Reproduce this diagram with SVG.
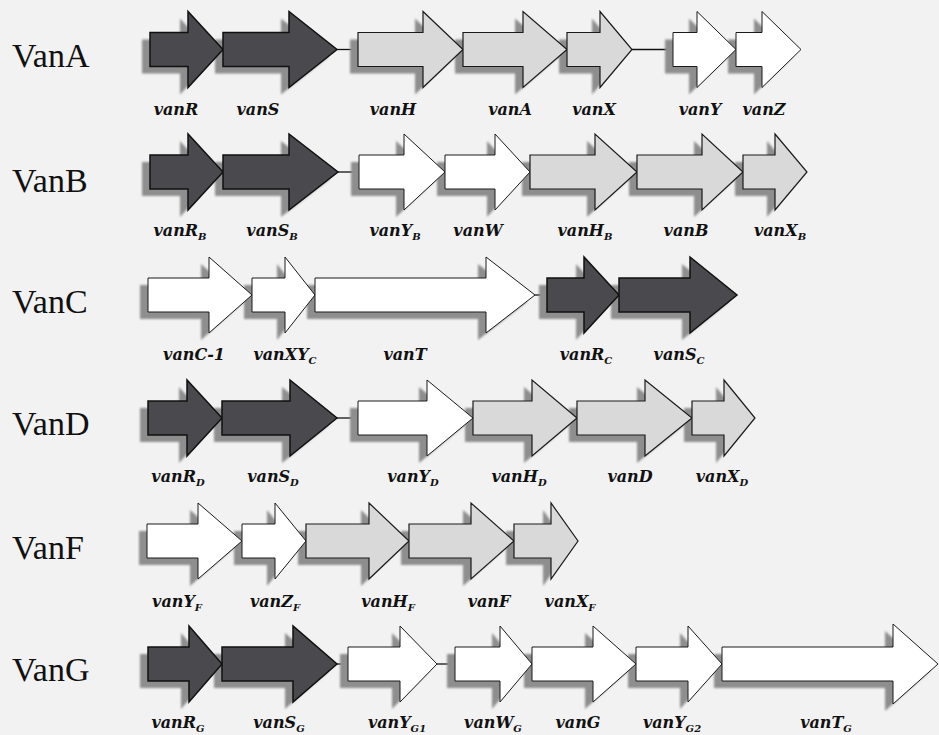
<svg xmlns="http://www.w3.org/2000/svg" width="939" height="735" viewBox="0 0 939 735">
<style>
.bg{fill:#f2f2f2}
.sh{fill:#8e8e8e;filter:url(#blur)}
.dk{fill:#4a4a4e;stroke:#111;stroke-width:1.5;stroke-linejoin:miter}
.lt{fill:#d9d9d9;stroke:#1a1a1a;stroke-width:1.2}
.wt{fill:#ffffff;stroke:#1a1a1a;stroke-width:1}
.ln{stroke:#111;stroke-width:1.3}
.row{font-family:'Liberation Serif','DejaVu Serif',serif;font-size:34px;fill:#111}
.lbl{font-family:'DejaVu Serif','Liberation Serif',serif;font-weight:bold;font-style:italic;font-size:16px;fill:#111;text-anchor:middle}
.sub{font-size:10px}
</style>
<defs>
<filter id="blur" x="-10%" y="-10%" width="120%" height="120%"><feGaussianBlur stdDeviation="0.8"/></filter>
</defs>
<rect class="bg" x="0" y="0" width="939" height="735"/>

<!-- row titles -->
<g id="titles" font-family="Liberation Serif, DejaVu Serif, serif">
<text class="row" x="12" y="67">VanA</text>
<text class="row" x="12" y="192">VanB</text>
<text class="row" x="12" y="313">VanC</text>
<text class="row" x="12" y="435">VanD</text>
<text class="row" x="12" y="559">VanF</text>
<text class="row" x="12" y="681">VanG</text>
</g>

<!-- connectors -->
<g id="connectors">
<line class="ln" x1="337" y1="49.5" x2="358" y2="49.5"/>
<line class="ln" x1="632" y1="49.5" x2="673" y2="49.5"/>
<line class="ln" x1="338" y1="172" x2="359" y2="172"/>
<line class="ln" x1="535" y1="295" x2="547" y2="295"/>
<line class="ln" x1="337" y1="418" x2="358" y2="418"/>
<line class="ln" x1="337" y1="664" x2="348" y2="664"/>
<line class="ln" x1="437" y1="664" x2="455" y2="664"/>
</g>

<!-- shadows -->
<g id="shadows">
<g transform="translate(-8,56.5)">
<polygon class="sh" points="150,-17 188,-17 188,-38 223,0 188,38 188,17 150,17"/>
<polygon class="sh" points="223,-17 289,-17 289,-38 337,0 289,38 289,17 223,17"/>
<polygon class="sh" points="358,-17 423,-17 423,-38 463,0 423,38 423,17 358,17"/>
<polygon class="sh" points="463,-17 523,-17 523,-38 567,0 523,38 523,17 463,17"/>
<polygon class="sh" points="567,-17 600,-17 600,-38 632,0 600,38 600,17 567,17"/>
<polygon class="sh" points="673,-17 697,-17 697,-38 736,0 697,38 697,17 673,17"/>
<polygon class="sh" points="736,-17 762,-17 762,-38 801,0 762,38 762,17 736,17"/>
</g>
<g transform="translate(-8,179)">
<polygon class="sh" points="150,-17 188,-17 188,-38 223,0 188,38 188,17 150,17"/>
<polygon class="sh" points="223,-17 289,-17 289,-38 338,0 289,38 289,17 223,17"/>
<polygon class="sh" points="359,-17 404,-17 404,-38 445,0 404,38 404,17 359,17"/>
<polygon class="sh" points="445,-17 495,-17 495,-38 530,0 495,38 495,17 445,17"/>
<polygon class="sh" points="530,-17 595,-17 595,-38 637,0 595,38 595,17 530,17"/>
<polygon class="sh" points="637,-17 702,-17 702,-38 743,0 702,38 702,17 637,17"/>
<polygon class="sh" points="743,-17 775,-17 775,-38 807,0 775,38 775,17 743,17"/>
</g>
<g transform="translate(-8,302)">
<polygon class="sh" points="148,-17 209,-17 209,-38 252,0 209,38 209,17 148,17"/>
<polygon class="sh" points="252,-17 285,-17 285,-38 315,0 285,38 285,17 252,17"/>
<polygon class="sh" points="315,-17 486,-17 486,-38 535,0 486,38 486,17 315,17"/>
<polygon class="sh" points="547,-17 584,-17 584,-38 619,0 584,38 584,17 547,17"/>
<polygon class="sh" points="619,-17 690,-17 690,-38 737,0 690,38 690,17 619,17"/>
</g>
<g transform="translate(-8,425)">
<polygon class="sh" points="148,-17 187,-17 187,-38 222,0 187,38 187,17 148,17"/>
<polygon class="sh" points="222,-17 290,-17 290,-38 337,0 290,38 290,17 222,17"/>
<polygon class="sh" points="358,-17 427,-17 427,-38 473,0 427,38 427,17 358,17"/>
<polygon class="sh" points="473,-17 532,-17 532,-38 577,0 532,38 532,17 473,17"/>
<polygon class="sh" points="577,-17 645,-17 645,-38 692,0 645,38 645,17 577,17"/>
<polygon class="sh" points="692,-17 724,-17 724,-38 755,0 724,38 724,17 692,17"/>
</g>
<g transform="translate(-8,548)">
<polygon class="sh" points="147,-17 198,-17 198,-38 242,0 198,38 198,17 147,17"/>
<polygon class="sh" points="242,-17 275,-17 275,-38 306,0 275,38 275,17 242,17"/>
<polygon class="sh" points="306,-17 369,-17 369,-38 409,0 369,38 369,17 306,17"/>
<polygon class="sh" points="409,-17 471,-17 471,-38 514,0 471,38 471,17 409,17"/>
<polygon class="sh" points="514,-17 551,-17 551,-38 578,0 551,38 551,17 514,17"/>
</g>
<g transform="translate(-8,671)">
<polygon class="sh" points="148,-17 189,-17 189,-38 222,0 189,38 189,17 148,17"/>
<polygon class="sh" points="222,-17 293,-17 293,-38 337,0 293,38 293,17 222,17"/>
<polygon class="sh" points="348,-17 400,-17 400,-38 437,0 400,38 400,17 348,17"/>
<polygon class="sh" points="455,-17 500,-17 500,-38 532,0 500,38 500,17 455,17"/>
<polygon class="sh" points="532,-17 593,-17 593,-38 636,0 593,38 593,17 532,17"/>
<polygon class="sh" points="636,-17 688,-17 688,-38 722,0 688,38 688,17 636,17"/>
<polygon class="sh" points="722,-17 893,-17 893,-40 938,0 893,40 893,17 722,17"/>
</g>
</g>

<!-- VanA -->
<g id="rowA" transform="translate(0,49.5)">
<g id="vanR"><polygon class="dk" points="150,-17 188,-17 188,-38 223,0 188,38 188,17 150,17"/><text class="lbl" x="176" y="65.5">vanR</text></g>
<g id="vanS"><polygon class="dk" points="223,-17 289,-17 289,-38 337,0 289,38 289,17 223,17"/><text class="lbl" x="258" y="65.5">vanS</text></g>
<g id="vanH"><polygon class="lt" points="358,-17 423,-17 423,-38 463,0 423,38 423,17 358,17"/><text class="lbl" x="393" y="65.5">vanH</text></g>
<g id="vanA"><polygon class="lt" points="463,-17 523,-17 523,-38 567,0 523,38 523,17 463,17"/><text class="lbl" x="510" y="65.5">vanA</text></g>
<g id="vanX"><polygon class="lt" points="567,-17 600,-17 600,-38 632,0 600,38 600,17 567,17"/><text class="lbl" x="594" y="65.5">vanX</text></g>
<g id="vanY"><polygon class="wt" points="673,-17 697,-17 697,-38 736,0 697,38 697,17 673,17"/><text class="lbl" x="700" y="65.5">vanY</text></g>
<g id="vanZ"><polygon class="wt" points="736,-17 762,-17 762,-38 801,0 762,38 762,17 736,17"/><text class="lbl" x="764" y="65.5">vanZ</text></g>
</g>

<!-- VanB -->
<g id="rowB" transform="translate(0,172)">
<g id="vanRB"><polygon class="dk" points="150,-17 188,-17 188,-38 223,0 188,38 188,17 150,17"/><text class="lbl" x="180" y="64">vanR<tspan class="sub" dy="4">B</tspan></text></g>
<g id="vanSB"><polygon class="dk" points="223,-17 289,-17 289,-38 338,0 289,38 289,17 223,17"/><text class="lbl" x="272" y="64">vanS<tspan class="sub" dy="4">B</tspan></text></g>
<g id="vanYB"><polygon class="wt" points="359,-17 404,-17 404,-38 445,0 404,38 404,17 359,17"/><text class="lbl" x="395" y="64">vanY<tspan class="sub" dy="4">B</tspan></text></g>
<g id="vanW"><polygon class="wt" points="445,-17 495,-17 495,-38 530,0 495,38 495,17 445,17"/><text class="lbl" x="478" y="64">vanW</text></g>
<g id="vanHB"><polygon class="lt" points="530,-17 595,-17 595,-38 637,0 595,38 595,17 530,17"/><text class="lbl" x="585" y="64">vanH<tspan class="sub" dy="4">B</tspan></text></g>
<g id="vanB"><polygon class="lt" points="637,-17 702,-17 702,-38 743,0 702,38 702,17 637,17"/><text class="lbl" x="686" y="64">vanB</text></g>
<g id="vanXB"><polygon class="lt" points="743,-17 775,-17 775,-38 807,0 775,38 775,17 743,17"/><text class="lbl" x="780" y="64">vanX<tspan class="sub" dy="4">B</tspan></text></g>
</g>

<!-- VanC -->
<g id="rowC" transform="translate(0,295)">
<g id="vanC1"><polygon class="wt" points="148,-17 209,-17 209,-38 252,0 209,38 209,17 148,17"/><text class="lbl" x="194" y="65">vanC-1</text></g>
<g id="vanXYC"><polygon class="wt" points="252,-17 285,-17 285,-38 315,0 285,38 285,17 252,17"/><text class="lbl" x="285" y="65">vanXY<tspan class="sub" dy="4">C</tspan></text></g>
<g id="vanT"><polygon class="wt" points="315,-17 486,-17 486,-38 535,0 486,38 486,17 315,17"/><text class="lbl" x="405" y="65">vanT</text></g>
<g id="vanRC"><polygon class="dk" points="547,-17 584,-17 584,-38 619,0 584,38 584,17 547,17"/><text class="lbl" x="586" y="65">vanR<tspan class="sub" dy="4">C</tspan></text></g>
<g id="vanSC"><polygon class="dk" points="619,-17 690,-17 690,-38 737,0 690,38 690,17 619,17"/><text class="lbl" x="679" y="65">vanS<tspan class="sub" dy="4">C</tspan></text></g>
</g>

<!-- VanD -->
<g id="rowD" transform="translate(0,418)">
<g id="vanRD"><polygon class="dk" points="148,-17 187,-17 187,-38 222,0 187,38 187,17 148,17"/><text class="lbl" x="178" y="64">vanR<tspan class="sub" dy="4">D</tspan></text></g>
<g id="vanSD"><polygon class="dk" points="222,-17 290,-17 290,-38 337,0 290,38 290,17 222,17"/><text class="lbl" x="273" y="64">vanS<tspan class="sub" dy="4">D</tspan></text></g>
<g id="vanYD"><polygon class="wt" points="358,-17 427,-17 427,-38 473,0 427,38 427,17 358,17"/><text class="lbl" x="413" y="64">vanY<tspan class="sub" dy="4">D</tspan></text></g>
<g id="vanHD"><polygon class="lt" points="473,-17 532,-17 532,-38 577,0 532,38 532,17 473,17"/><text class="lbl" x="519" y="64">vanH<tspan class="sub" dy="4">D</tspan></text></g>
<g id="vanD"><polygon class="lt" points="577,-17 645,-17 645,-38 692,0 645,38 645,17 577,17"/><text class="lbl" x="630" y="64">vanD</text></g>
<g id="vanXD"><polygon class="lt" points="692,-17 724,-17 724,-38 755,0 724,38 724,17 692,17"/><text class="lbl" x="722" y="64">vanX<tspan class="sub" dy="4">D</tspan></text></g>
</g>

<!-- VanF -->
<g id="rowF" transform="translate(0,541)">
<g id="vanYF"><polygon class="wt" points="147,-17 198,-17 198,-38 242,0 198,38 198,17 147,17"/><text class="lbl" x="177" y="66">vanY<tspan class="sub" dy="4">F</tspan></text></g>
<g id="vanZF"><polygon class="wt" points="242,-17 275,-17 275,-38 306,0 275,38 275,17 242,17"/><text class="lbl" x="275" y="66">vanZ<tspan class="sub" dy="4">F</tspan></text></g>
<g id="vanHF"><polygon class="lt" points="306,-17 369,-17 369,-38 409,0 369,38 369,17 306,17"/><text class="lbl" x="388" y="66">vanH<tspan class="sub" dy="4">F</tspan></text></g>
<g id="vanF"><polygon class="lt" points="409,-17 471,-17 471,-38 514,0 471,38 471,17 409,17"/><text class="lbl" x="489" y="66">vanF</text></g>
<g id="vanXF"><polygon class="lt" points="514,-17 551,-17 551,-38 578,0 551,38 551,17 514,17"/><text class="lbl" x="570" y="66">vanX<tspan class="sub" dy="4">F</tspan></text></g>
</g>

<!-- VanG -->
<g id="rowG" transform="translate(0,664)">
<g id="vanRG"><polygon class="dk" points="148,-17 189,-17 189,-38 222,0 189,38 189,17 148,17"/><text class="lbl" x="178" y="64">vanR<tspan class="sub" dy="4">G</tspan></text></g>
<g id="vanSG"><polygon class="dk" points="222,-17 293,-17 293,-38 337,0 293,38 293,17 222,17"/><text class="lbl" x="279" y="64">vanS<tspan class="sub" dy="4">G</tspan></text></g>
<g id="vanYG1"><polygon class="wt" points="348,-17 400,-17 400,-38 437,0 400,38 400,17 348,17"/><text class="lbl" x="397" y="64">vanY<tspan class="sub" dy="4">G1</tspan></text></g>
<g id="vanWG"><polygon class="wt" points="455,-17 500,-17 500,-38 532,0 500,38 500,17 455,17"/><text class="lbl" x="493" y="64">vanW<tspan class="sub" dy="4">G</tspan></text></g>
<g id="vanG"><polygon class="wt" points="532,-17 593,-17 593,-38 636,0 593,38 593,17 532,17"/><text class="lbl" x="578" y="64">vanG</text></g>
<g id="vanYG2"><polygon class="wt" points="636,-17 688,-17 688,-38 722,0 688,38 688,17 636,17"/><text class="lbl" x="672" y="64">vanY<tspan class="sub" dy="4">G2</tspan></text></g>
<g id="vanTG"><polygon class="wt" points="722,-17 893,-17 893,-40 938,0 893,40 893,17 722,17"/><text class="lbl" x="826" y="64">vanT<tspan class="sub" dy="4">G</tspan></text></g>
</g>
</svg>
